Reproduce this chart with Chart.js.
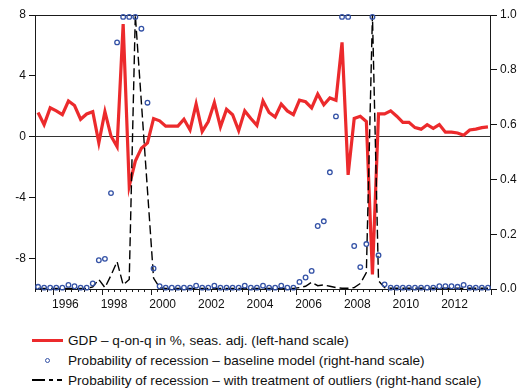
<!DOCTYPE html>
<html>
<head>
<meta charset="utf-8">
<script src="https://cdn.jsdelivr.net/npm/chart.js@4.4.1/dist/chart.umd.min.js"></script>
<style>
  body { margin: 0; background: #fff; }
  #wrap { position: relative; width: 528px; height: 388px; overflow: hidden; }
  #chart { position: absolute; left: 0; top: 0; }
  #legend {
    position: absolute; left: 0; top: 331px;
    font-family: "Liberation Sans", Arial, sans-serif; font-size: 13.6px; color: #111;
  }
  .item { height: 19.7px; display: flex; align-items: center; white-space: nowrap; }
  .mark { width: 31px; height: 10px; margin-left: 32px; margin-right: 5px; position: relative; }
  .mark span { position: absolute; }
</style>
</head>
<body>
<div id="wrap">
  <canvas id="chart" width="528" height="320"></canvas>
  <div id="legend"></div>
</div>
<script>
// quarterly observations, 1995Q2 .. 2013Q4
const quarters = [];
for (let y = 1995; y <= 2013; y++) {
  for (let q = 1; q <= 4; q++) {
    if (y === 1995 && q === 1) continue;
    quarters.push(y + 'Q' + q);
  }
}

// GDP q-on-q in %, seas. adj. (left-hand scale)
const gdp = [
  1.6, 0.8, 1.9, 1.7, 1.45, 2.35, 2.05, 1.15, 1.5, 1.65,
  -0.4, 1.65, 0.05, -0.65, 7.4, -3.25, -1.6, -0.75, -0.4, 1.2,
  1.05, 0.7, 0.7, 0.7, 1.15, 0.45, 2.15, 0.35, 1.0, 2.25,
  0.65, 1.8, 1.45, 0.4, 1.7, 1.2, 0.75, 2.35, 1.6, 1.3,
  2.15, 1.7, 1.45, 2.4, 2.3, 1.9, 2.8, 2.1, 2.55, 2.4,
  6.2, -2.5, 1.2, 1.35, 1.0, -9.05, 1.5, 1.5, 1.7, 1.35,
  0.95, 0.95, 0.6, 0.5, 0.8, 0.55, 0.8, 0.3, 0.3, 0.25,
  0.1, 0.45, 0.5, 0.6, 0.65
];

// probability of recession - baseline model (right-hand scale)
const probBaseline = [
  0.008, 0.005, 0.005, 0.005, 0.005, 0.015, 0.01, 0.005, 0.005, 0.02,
  0.105, 0.11, 0.35, 0.90, 0.993, 0.993, 0.993, 0.95, 0.68, 0.075,
  0.01, 0.005, 0.005, 0.005, 0.005, 0.005, 0.012, 0.005, 0.005, 0.012,
  0.005, 0.005, 0.005, 0.005, 0.012, 0.005, 0.005, 0.012, 0.005, 0.005,
  0.012, 0.005, 0.005, 0.026, 0.042, 0.066, 0.23, 0.247, 0.426, 0.63,
  0.993, 0.993, 0.157, 0.08, 0.164, 0.993, 0.123, 0.017, 0.005, 0.005,
  0.005, 0.005, 0.005, 0.005, 0.005, 0.005, 0.01, 0.01, 0.01, 0.008,
  0.015, 0.005, 0.005, 0.005, 0.005
];

// probability of recession - with treatment of outliers (right-hand scale)
const probOutliers = [
  0.002, 0.002, 0.002, 0.002, 0.002, 0.002, 0.002, 0.002, 0.002, 0.008,
  0.035, 0.005, 0.05, 0.10, 0.015, 0.035, 1.0, 0.68, 0.36, 0.04,
  0.005, 0.002, 0.002, 0.002, 0.002, 0.002, 0.002, 0.002, 0.002, 0.002,
  0.002, 0.002, 0.002, 0.002, 0.002, 0.002, 0.002, 0.002, 0.002, 0.002,
  0.002, 0.002, 0.002, 0.005, 0.01, 0.025, 0.012, 0.015, 0.01, 0.005,
  0.003, 0.003, 0.005, 0.02, 0.06, 1.0, 0.03, 0.005, 0.003, 0.003,
  0.003, 0.003, 0.003, 0.003, 0.003, 0.003, 0.003, 0.003, 0.003, 0.003,
  0.003, 0.003, 0.003, 0.003, 0.003
];

const yearLabels = [1996, 1998, 2000, 2002, 2004, 2006, 2008, 2010, 2012];
const leftTicks = [-8, -4, 0, 4, 8];
const rightTicks = [0, 0.2, 0.4, 0.6, 0.8, 1.0];

const labels = [
  'GDP \u2013 q-on-q in %, seas. adj. (left-hand scale)',
  'Probability of recession \u2013 baseline model (right-hand scale)',
  'Probability of recession \u2013 with treatment of outliers (right-hand scale)'
];

// quarter -> position in years (middle of the quarter)
function qx(label) {
  const y = parseInt(label.slice(0, 4), 10);
  const q = parseInt(label.slice(5), 10);
  return y + (q - 1) / 4 + 0.125;
}
function pts(values) {
  return quarters.map((q, i) => ({ x: qx(q), y: values[i] }));
}

const RED = '#ec2a2c';
const BLUE = '#3452a6';

// frame + quarterly tick marks, drawn like the original
const framePlugin = {
  id: 'frame',
  beforeDatasetsDraw(chart) {
    const { ctx, chartArea: a, scales } = chart;
    const xs = scales.x;
    ctx.save();
    ctx.strokeStyle = '#1a1a1a';
    ctx.lineWidth = 1;
    ctx.strokeRect(a.left + 0.5, a.top + 0.5, a.right - a.left - 1, a.bottom - a.top);
    ctx.beginPath();
    for (let v = xs.min; v <= xs.max + 1e-6; v += 0.25) {
      const px = Math.round(xs.getPixelForValue(v)) + 0.5;
      const major = Math.abs(v - Math.round(v)) < 1e-6 && Math.round(v) % 2 === 0;
      ctx.moveTo(px, a.bottom);
      ctx.lineTo(px, a.bottom + (major ? 6 : 3));
    }
    ctx.stroke();
    ctx.restore();
  }
};

const chart = new Chart(document.getElementById('chart').getContext('2d'), {
  type: 'line',
  data: {
    datasets: [
      {
        label: labels[0],
        data: pts(gdp),
        yAxisID: 'y',
        borderColor: RED,
        borderWidth: 3.2,
        pointRadius: 0,
        tension: 0,
        order: 3
      },
      {
        label: labels[1],
        data: pts(probBaseline),
        yAxisID: 'y1',
        showLine: false,
        pointStyle: 'circle',
        pointRadius: 2.3,
        pointBorderWidth: 1.3,
        pointBorderColor: BLUE,
        pointBackgroundColor: 'rgba(0,0,0,0)',
        clip: false,
        order: 1
      },
      {
        label: labels[2],
        data: pts(probOutliers),
        yAxisID: 'y1',
        borderColor: '#000',
        borderWidth: 1.4,
        borderDash: [9, 4],
        pointRadius: 0,
        tension: 0,
        order: 2
      }
    ]
  },
  options: {
    responsive: false,
    animation: false,
    layout: { padding: { top: 15, left: 0, right: 0, bottom: 0 } },
    plugins: { legend: { display: false }, tooltip: { enabled: false } },
    scales: {
      x: {
        type: 'linear',
        min: 1995.25,
        max: 2014,
        afterBuildTicks: s => { s.ticks = yearLabels.map(y => ({ value: y + 0.5 })); },
        afterFit: s => { s.height = 31; },
        ticks: {
          autoSkip: false,
          maxRotation: 0,
          padding: 8,
          color: '#111',
          font: { family: 'Liberation Sans', size: 12 },
          callback: v => String(Math.floor(v))
        },
        grid: { drawOnChartArea: false, drawTicks: false },
        border: { display: false }
      },
      y: {
        position: 'left',
        min: -10,
        max: 8,
        afterBuildTicks: s => { s.ticks = leftTicks.map(v => ({ value: v })); },
        afterFit: s => { s.width = 35; },
        ticks: {
          padding: 3,
          color: '#111',
          font: { family: 'Liberation Sans', size: 12 },
          callback: v => String(v)
        },
        grid: {
          color: c => (c.tick && c.tick.value === 0 ? '#333' : 'rgba(0,0,0,0)'),
          tickColor: '#111',
          tickLength: 6,
          lineWidth: 1
        },
        border: { display: false }
      },
      y1: {
        position: 'right',
        min: 0,
        max: 1,
        afterBuildTicks: s => { s.ticks = rightTicks.map(v => ({ value: v })); },
        afterFit: s => { s.width = 37; },
        ticks: {
          padding: 3,
          color: '#111',
          font: { family: 'Liberation Sans', size: 12 },
          callback: v => v.toFixed(1)
        },
        grid: { drawOnChartArea: false, tickColor: '#111', tickLength: 6 },
        border: { display: false }
      }
    }
  },
  plugins: [framePlugin]
});

// legend under the chart, built from the datasets
const legend = document.getElementById('legend');
chart.data.datasets.forEach((ds, i) => {
  const row = document.createElement('div');
  row.className = 'item';
  const mark = document.createElement('div');
  mark.className = 'mark';
  const s = document.createElement('span');
  if (i === 0) {
    s.style.cssText = 'left:0;top:3.5px;width:31px;height:3px;background:' + RED;
  } else if (i === 1) {
    s.style.cssText = 'left:13px;top:2.5px;width:3px;height:3px;border:1.3px solid ' + BLUE + ';border-radius:50%';
  } else {
    s.style.cssText = 'left:0;top:4px;width:31px;height:1.5px;background:linear-gradient(to right,#000 0 13px,transparent 13px 17px,#000 17px 21px,transparent 21px 25px,#000 25px 30px,transparent 30px)';
  }
  mark.appendChild(s);
  const t = document.createElement('span');
  t.textContent = ds.label;
  row.appendChild(mark);
  row.appendChild(t);
  legend.appendChild(row);
});
</script>
</body>
</html>
